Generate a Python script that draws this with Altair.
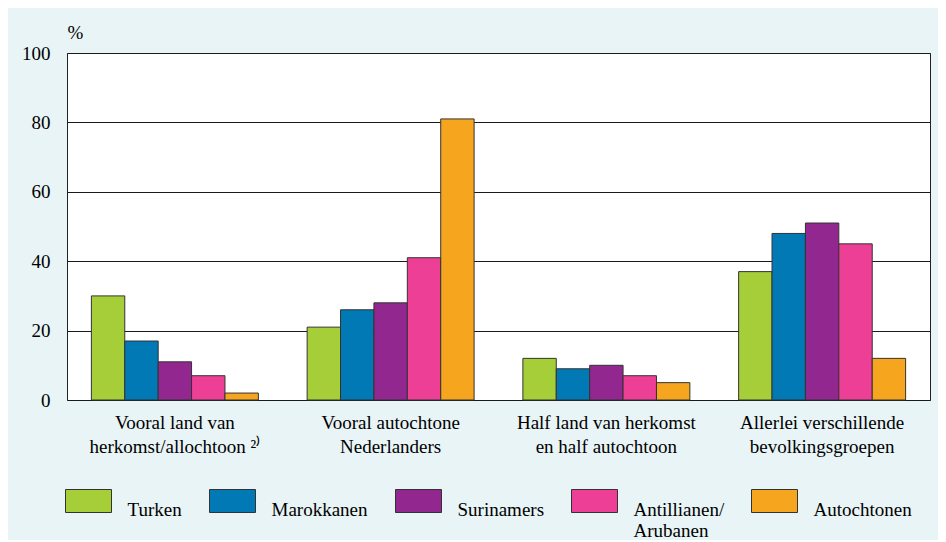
import altair as alt
import pandas as pd

# ---- data ----
categories = [
    "Vooral land van|herkomst/allochtoon \u00b2\u207e",
    "Vooral autochtone|Nederlanders",
    "Half land van herkomst|en half autochtoon",
    "Allerlei verschillende|bevolkingsgroepen",
]
groups = ["Turken", "Marokkanen", "Surinamers", "Antillianen/|Arubanen", "Autochtonen"]
turken = [30, 21, 12, 37]
marokkanen = [17, 26, 9, 48]
surinamers = [11, 28, 10, 51]
antillianen = [7, 41, 7, 45]
autochtonen = [2, 81, 5, 12]
colors = ["#A6CE39", "#0079B4", "#92278F", "#EE3F97", "#F6A51E"]
y_ticks = [0, 20, 40, 60, 80, 100]

series = [turken, marokkanen, surinamers, antillianen, autochtonen]
rows = []
for g, vals in zip(groups, series):
    for c, v in zip(categories, vals):
        rows.append({"categorie": c, "groep": g, "pct": v})
df = pd.DataFrame(rows)

FONT = "serif"
FS = 19

bars = alt.Chart(df).mark_bar(stroke="#333333", strokeWidth=1).encode(
    x=alt.X(
        "categorie:N",
        sort=categories,
        scale=alt.Scale(paddingInner=0.226, paddingOuter=0.113),
        axis=alt.Axis(
            title=None,
            labelExpr="split(datum.label, '|')",
            labelAngle=0,
            labelFont=FONT,
            labelFontSize=FS,
            labelColor="black",
            labelPadding=13,
            labelLineHeight=24,
            labelBaseline="top",
            labelLimit=400,
            ticks=False,
            tickSize=0,
            domain=False,
            grid=False,
        ),
    ),
    xOffset=alt.XOffset("groep:N", sort=groups, scale=alt.Scale(paddingInner=0, paddingOuter=0)),
    y=alt.Y(
        "pct:Q",
        scale=alt.Scale(domain=[0, 100], nice=False),
        axis=alt.Axis(
            values=y_ticks,
            title="%",
            titleAngle=0,
            titleX=0,
            titleY=-15,
            titleAlign="left",
            titleBaseline="alphabetic",
            titleFont=FONT,
            titleFontSize=FS,
            titleFontWeight="normal",
            titleColor="black",
            labelFont=FONT,
            labelFontSize=FS,
            labelColor="black",
            labelPadding=17,
            ticks=False,
            tickSize=0,
            domain=False,
            grid=True,
            gridColor="#1a1a1a",
            gridWidth=1,
            gridOpacity=1,
        ),
    ),
    color=alt.Color(
        "groep:N",
        sort=groups,
        scale=alt.Scale(domain=groups, range=colors),
        legend=alt.Legend(
            title=None,
            orient="none",
            legendX=9.5,
            legendY=436,
            direction="horizontal",
            columns=5,
            symbolType="M-2,-1H2V1H-2Z",
            symbolSize=529,
            symbolStrokeColor="#333333",
            symbolStrokeWidth=1,
            symbolOpacity=1,
            labelFont=FONT,
            labelFontSize=FS,
            labelColor="black",
            labelBaseline="top",
            labelOffset=27,
            labelLimit=400,
            columnPadding=25,
            labelExpr="indexof(datum.label, '|') >= 0 ? split(datum.label, '|') : [datum.label, ' ']",
        ),
    ),
)

chart = bars.properties(
    width=863,
    height=347,
    autosize=alt.AutoSizeParams(type="none"),
    padding={"left": 59, "top": 45, "right": 8, "bottom": 140},
    background="#E8F4F6",
).configure_view(
    stroke="#222222",
    strokeWidth=1,
    fill="white",
)

chart.save("out.html", embed_options={"renderer": "svg", "actions": False})
